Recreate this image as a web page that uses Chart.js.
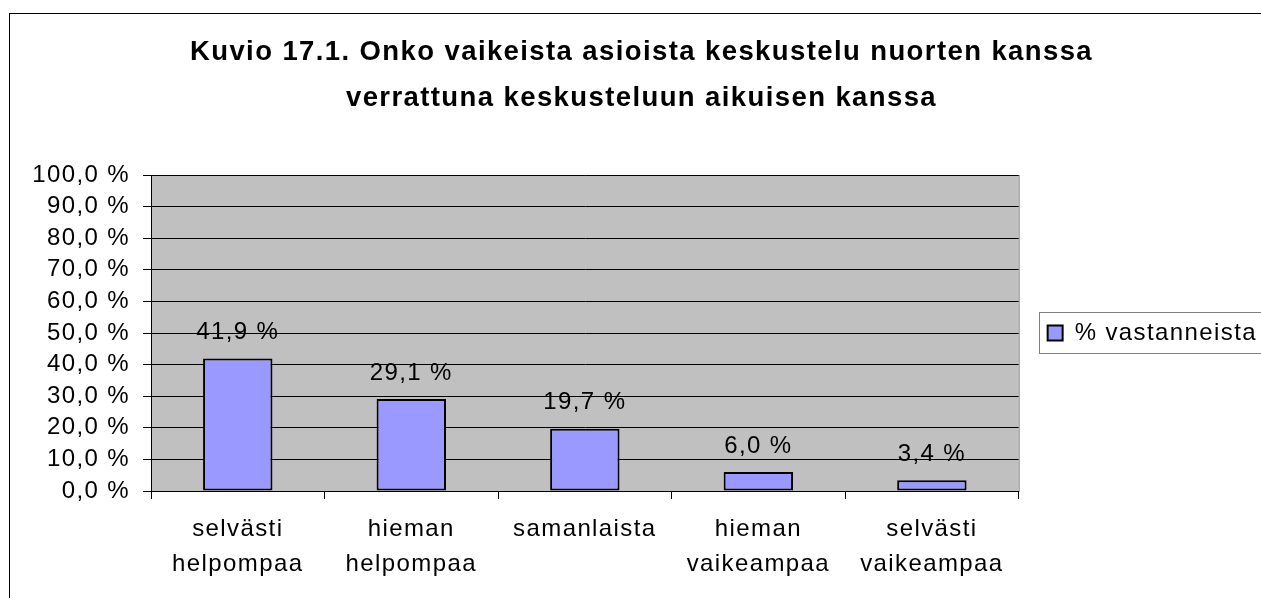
<!DOCTYPE html>
<html>
<head>
<meta charset="utf-8">
<script src="https://cdn.jsdelivr.net/npm/chart.js@4.4.0/dist/chart.umd.min.js"></script>
<style>
  body { margin: 0; background: #fff; }
  canvas { display: block; }
</style>
</head>
<body>
<canvas id="myChart" width="1261" height="598"></canvas>
<script>
var categories = [
	["selvästi", "helpompaa"],
	["hieman", "helpompaa"],
	["samanlaista"],
	["hieman", "vaikeampaa"],
	["selvästi", "vaikeampaa"]
];
var seriesName = "% vastanneista";
var values = [41.9, 29.1, 19.7, 6.0, 3.4];
var yTicks = [0, 10, 20, 30, 40, 50, 60, 70, 80, 90, 100];
var titleLines = [
	"Kuvio 17.1. Onko vaikeista asioista keskustelu nuorten kanssa",
	"verrattuna keskusteluun aikuisen kanssa"
];

var FONT = "'Liberation Sans', Arial, sans-serif";
var SPACING = "1.4px";
var PAD_LEFT = 16;

function fmt(v){
	return v.toFixed(1).replace(".", ",") + " %";
}

var excelLook = {
	id: "excelLook",
	beforeUpdate: function(chart){
		chart.ctx.letterSpacing = SPACING;
	},
	beforeDraw: function(chart){
		var ctx = chart.ctx;
		var a = chart.chartArea;
		ctx.letterSpacing = SPACING;
		ctx.save();
		ctx.fillStyle = "#ffffff";
		ctx.fillRect(0, 0, chart.width, chart.height);
		ctx.strokeStyle = "#000000";
		ctx.lineWidth = 1;
		ctx.strokeRect(9.5, 13.5, 1400, 800);
		// plot area
		ctx.fillStyle = "#C0C0C0";
		ctx.fillRect(a.left, a.top, a.right - a.left, a.bottom - a.top);
		ctx.strokeStyle = "#808080";
		ctx.strokeRect(a.left + 0.5, a.top + 0.5, a.right - a.left, a.bottom - a.top);
		ctx.restore();
	},
	afterDatasetsDraw: function(chart){
		var ctx = chart.ctx;
		var meta = chart.getDatasetMeta(0);
		ctx.save();
		ctx.font = "24px " + FONT;
		ctx.fillStyle = "#000000";
		ctx.textAlign = "center";
		ctx.textBaseline = "middle";
		for (var i = 0; i < meta.data.length; i++) {
			var bar = meta.data[i];
			ctx.fillText(fmt(values[i]), bar.x, bar.y - 26);
		}
		ctx.restore();
	},
	afterDraw: function(chart){
		var hb = chart.legend.legendHitBoxes[0];
		if(!hb) return;
		var ctx = chart.ctx;
		var cy = hb.top + hb.height / 2;
		ctx.save();
		ctx.strokeStyle = "#808080";
		ctx.lineWidth = 1;
		ctx.strokeRect(Math.round(hb.left - 9) + 0.5, Math.round(cy - 21) + 0.5, 400, 41);
		ctx.restore();
	}
};

function drawChart(){
	var ctx = document.getElementById("myChart").getContext("2d");

	new Chart(ctx, {
		type: "bar",
		data: {
			labels: categories,
			datasets: [{
				label: seriesName,
				data: values,
				backgroundColor: "#9999FF",
				borderColor: "#000000",
				borderWidth: 2,
				borderSkipped: false,
				barPercentage: 0.4,
				categoryPercentage: 1.0
			}]
		},
		plugins: [excelLook],
		options: {
			responsive: false,
			devicePixelRatio: 1,
			animation: false,
			layout: { padding: { left: PAD_LEFT, right: -6, top: 0, bottom: 16 } },
			plugins: {
				title: {
					display: true,
					text: titleLines,
					color: "#000000",
					font: { family: FONT, size: 27.5, weight: "bold", lineHeight: 1.673 },
					padding: { top: 29, bottom: 54 }
				},
				legend: {
					display: true,
					position: "right",
					fullSize: false,
					labels: {
						color: "#000000",
						font: { family: FONT, size: 24 },
						boxWidth: 15,
						boxHeight: 15,
						padding: 29
					}
				},
				tooltip: { enabled: false }
			},
			scales: {
				x: {
					afterFit: function(scale){
						scale.height = 91;
					},
					grid: {
						display: true,
						drawOnChartArea: false,
						drawTicks: true,
						tickLength: 8,
						color: "#000000",
						offset: true
					},
					border: { display: true, color: "#000000", width: 1 },
					ticks: {
						color: "#000000",
						font: { family: FONT, size: 24, lineHeight: 1.458 },
						padding: 13,
						maxRotation: 0,
						autoSkip: false
					}
				},
				y: {
					min: 0,
					max: 100,
					afterBuildTicks: function(scale){
						scale.ticks = yTicks.map(function(v){ return { value: v }; });
					},
					afterFit: function(scale){
						scale.width = 151 - PAD_LEFT;
					},
					grid: {
						color: "#000000",
						tickLength: 8,
						drawTicks: true
					},
					border: { display: true, color: "#000000", width: 1 },
					ticks: {
						color: "#000000",
						font: { family: FONT, size: 24 },
						padding: 13,
						autoSkip: false,
						callback: function(v){ return fmt(v); }
					}
				}
			}
		}
	});
}

drawChart();
</script>
</body>
</html>
